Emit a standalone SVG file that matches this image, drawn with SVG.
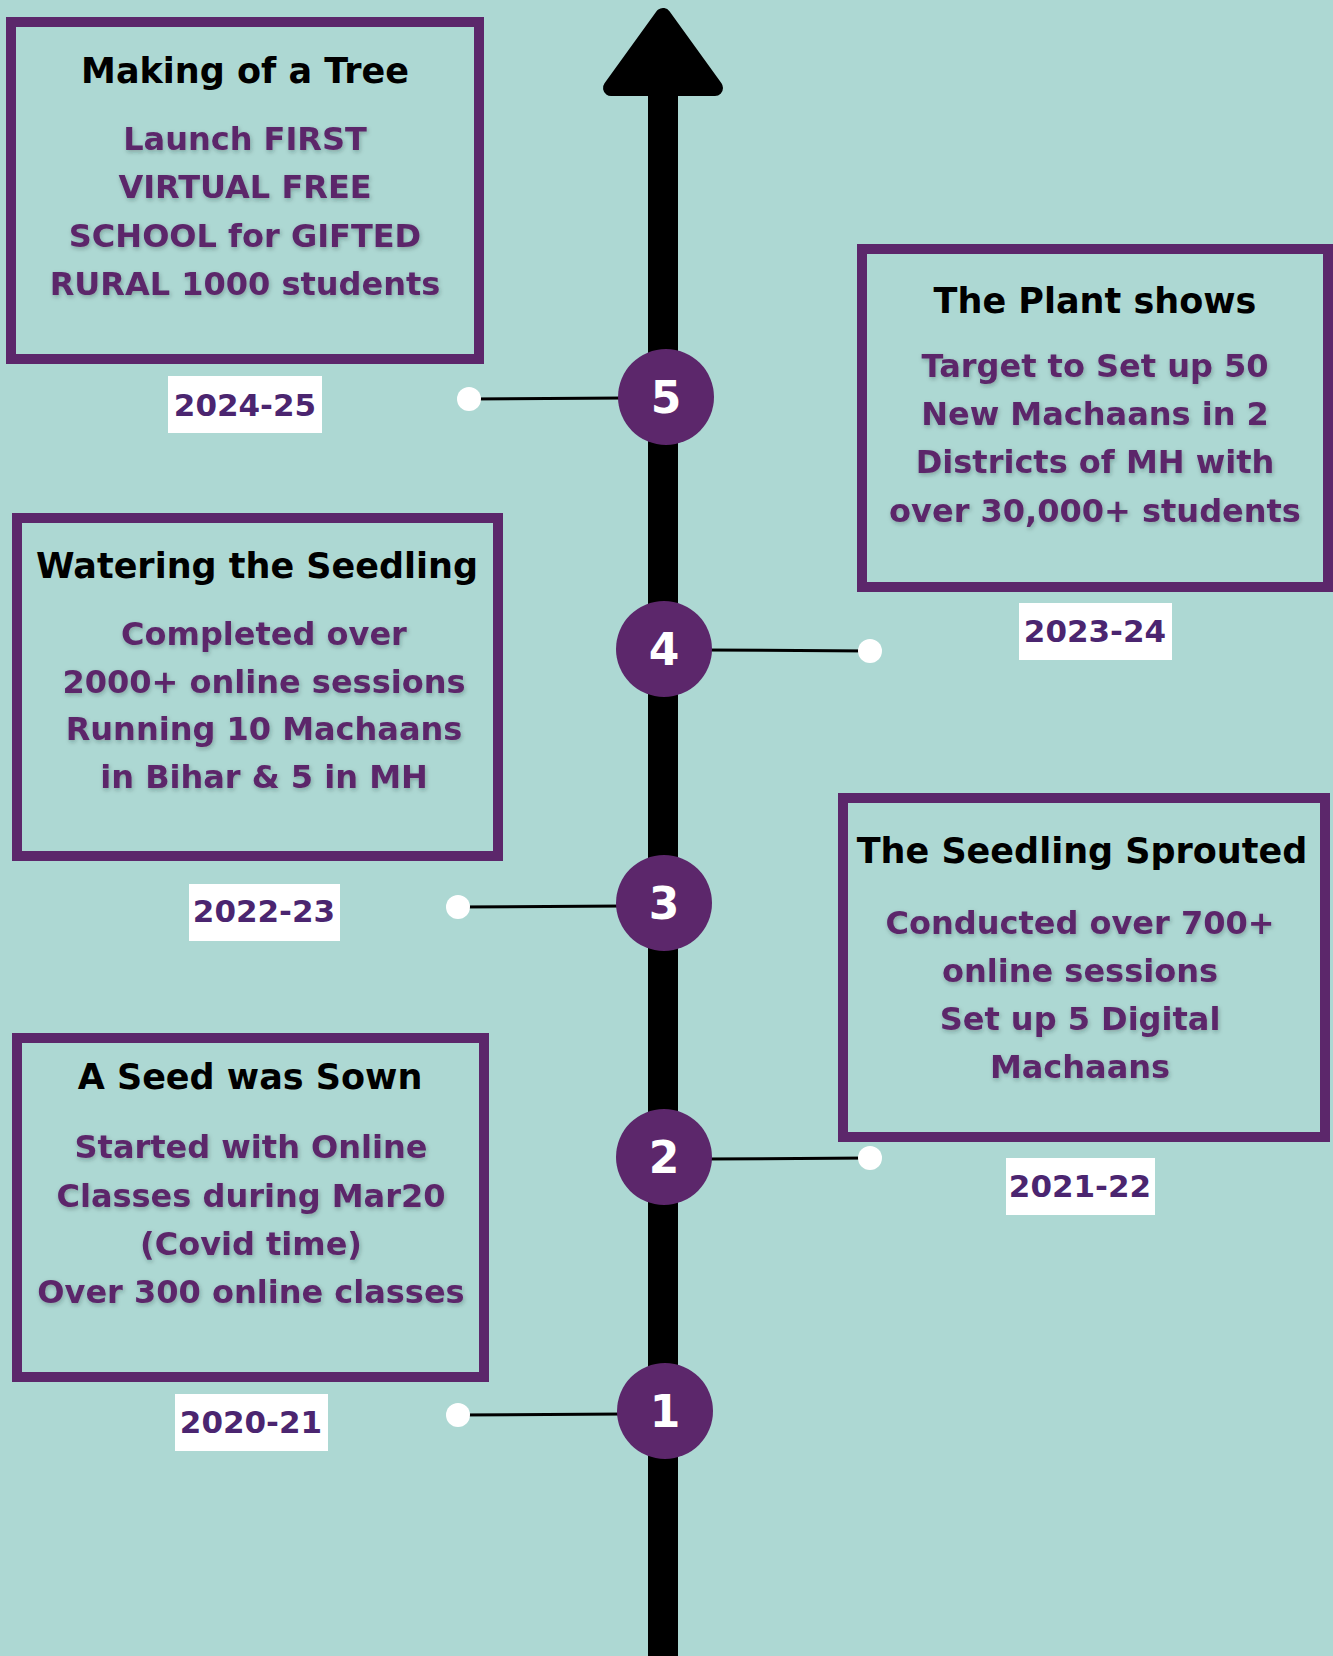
<svg xmlns="http://www.w3.org/2000/svg" width="1333" height="1656" viewBox="0 0 1333 1656">
<defs>
<style>
.box{fill:none;stroke:#5c276b;stroke-width:10}
.title{font-family:"DejaVu Sans",sans-serif;font-weight:bold;font-size:35px;fill:#000;text-anchor:middle}
.body{font-family:"DejaVu Sans",sans-serif;font-weight:bold;font-size:32px;fill:#5c276b;text-anchor:middle;filter:url(#sh)}
.year{font-family:"DejaVu Sans",sans-serif;font-weight:bold;font-size:31px;fill:#4b2570;text-anchor:middle}
.yr{fill:#fff}
.num{font-family:"DejaVu Sans",sans-serif;font-weight:bold;font-size:44px;fill:#fff;text-anchor:middle}
.circ{fill:#5c276b}
.con{stroke:#000;stroke-width:3;fill:none}
.dot{fill:#fff}
</style>
<filter id="sh" x="-10%" y="-30%" width="120%" height="160%">
<feDropShadow dx="1" dy="2" stdDeviation="2" flood-color="#203030" flood-opacity="0.3"/>
</filter>
</defs>
<rect width="1333" height="1656" fill="#add8d3"/>

<g id="timeline">
<rect x="648" y="90" width="30" height="1570" fill="#000"/>
<polygon points="663,16 611,88 715,88" fill="#000" stroke="#000" stroke-width="16" stroke-linejoin="round"/>
</g>

<g id="connectors">
<line class="con" x1="469" y1="399" x2="625" y2="398"/>
<line class="con" x1="705" y1="650" x2="870" y2="651"/>
<line class="con" x1="458" y1="907" x2="625" y2="906"/>
<line class="con" x1="705" y1="1159" x2="870" y2="1158"/>
<line class="con" x1="458" y1="1415" x2="625" y2="1414"/>
<ellipse class="dot" cx="469" cy="399" rx="12" ry="12"/>
<ellipse class="dot" cx="870" cy="651" rx="12" ry="12"/>
<ellipse class="dot" cx="458" cy="907" rx="12" ry="12"/>
<ellipse class="dot" cx="870" cy="1158" rx="12" ry="12"/>
<ellipse class="dot" cx="458" cy="1415" rx="12" ry="12"/>
</g>

<g id="step5">
<circle class="circ" cx="666" cy="397" r="48"/>
<text class="num" x="666" y="413">5</text>
</g>
<g id="step4">
<circle class="circ" cx="664" cy="649" r="48"/>
<text class="num" x="664" y="665">4</text>
</g>
<g id="step3">
<circle class="circ" cx="664" cy="903" r="48"/>
<text class="num" x="664" y="919">3</text>
</g>
<g id="step2">
<circle class="circ" cx="664" cy="1157" r="48"/>
<text class="num" x="664" y="1173">2</text>
</g>
<g id="step1">
<circle class="circ" cx="665" cy="1411" r="48"/>
<text class="num" x="665" y="1427">1</text>
</g>

<g id="box-2024">
<rect class="box" x="11" y="22" width="468" height="337"/>
<text class="title" x="245" y="83">Making of a Tree</text>
<text class="body" x="245" y="150">Launch FIRST</text>
<text class="body" x="245" y="198">VIRTUAL FREE</text>
<text class="body" x="245" y="247">SCHOOL for GIFTED</text>
<text class="body" x="245" y="295">RURAL 1000 students</text>
</g>
<g id="year-2024">
<rect class="yr" x="168" y="376" width="154" height="57"/>
<text class="year" x="245" y="416">2024-25</text>
</g>

<g id="box-2023">
<rect class="box" x="862" y="249" width="466" height="338"/>
<text class="title" x="1095" y="313">The Plant shows</text>
<text class="body" x="1095" y="377">Target to Set up 50</text>
<text class="body" x="1095" y="425">New Machaans in 2</text>
<text class="body" x="1095" y="473">Districts of MH with</text>
<text class="body" x="1095" y="522">over 30,000+ students</text>
</g>
<g id="year-2023">
<rect class="yr" x="1019" y="603" width="153" height="57"/>
<text class="year" x="1095" y="642">2023-24</text>
</g>

<g id="box-2022">
<rect class="box" x="17" y="518" width="481" height="338"/>
<text class="title" x="257" y="578">Watering the Seedling</text>
<text class="body" x="264" y="645">Completed over</text>
<text class="body" x="264" y="693">2000+ online sessions</text>
<text class="body" x="264" y="740">Running 10 Machaans</text>
<text class="body" x="264" y="788">in Bihar &amp; 5 in MH</text>
</g>
<g id="year-2022">
<rect class="yr" x="189" y="884" width="151" height="57"/>
<text class="year" x="264" y="922">2022-23</text>
</g>

<g id="box-2021">
<rect class="box" x="843" y="798" width="482" height="339"/>
<text class="title" x="1082" y="863">The Seedling Sprouted</text>
<text class="body" x="1080" y="934">Conducted over 700+</text>
<text class="body" x="1080" y="982">online sessions</text>
<text class="body" x="1080" y="1030">Set up 5 Digital</text>
<text class="body" x="1080" y="1078">Machaans</text>
</g>
<g id="year-2021">
<rect class="yr" x="1006" y="1158" width="149" height="57"/>
<text class="year" x="1080" y="1197">2021-22</text>
</g>

<g id="box-2020">
<rect class="box" x="17" y="1038" width="467" height="339"/>
<text class="title" x="250" y="1089">A Seed was Sown</text>
<text class="body" x="251" y="1158">Started with Online</text>
<text class="body" x="251" y="1207">Classes during Mar20</text>
<text class="body" x="251" y="1255">(Covid time)</text>
<text class="body" x="251" y="1303">Over 300 online classes</text>
</g>
<g id="year-2020">
<rect class="yr" x="175" y="1394" width="153" height="57"/>
<text class="year" x="251" y="1433">2020-21</text>
</g>
</svg>
